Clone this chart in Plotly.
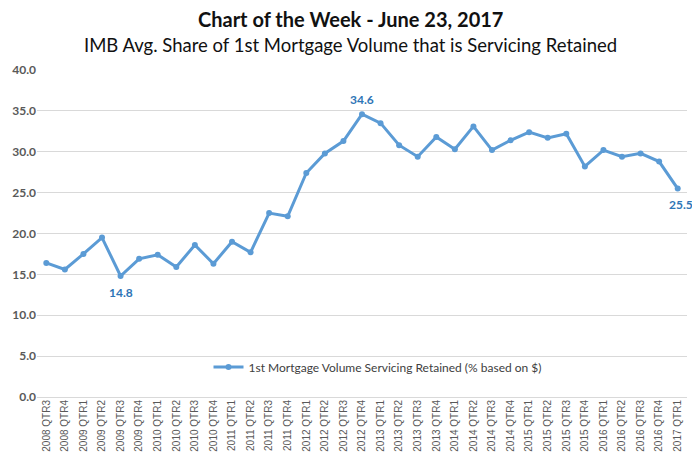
import plotly.graph_objects as go

quarters = [
    "2008 QTR3", "2008 QTR4",
    "2009 QTR1", "2009 QTR2", "2009 QTR3", "2009 QTR4",
    "2010 QTR1", "2010 QTR2", "2010 QTR3", "2010 QTR4",
    "2011 QTR1", "2011 QTR2", "2011 QTR3", "2011 QTR4",
    "2012 QTR1", "2012 QTR2", "2012 QTR3", "2012 QTR4",
    "2013 QTR1", "2013 QTR2", "2013 QTR3", "2013 QTR4",
    "2014 QTR1", "2014 QTR2", "2014 QTR3", "2014 QTR4",
    "2015 QTR1", "2015 QTR2", "2015 QTR3", "2015 QTR4",
    "2016 QTR1", "2016 QTR2", "2016 QTR3", "2016 QTR4",
    "2017 QTR1",
]
share_retained = [
    16.4, 15.6,
    17.5, 19.5, 14.8, 16.9,
    17.4, 15.9, 18.6, 16.3,
    19.0, 17.7, 22.5, 22.1,
    27.4, 29.8, 31.3, 34.6,
    33.5, 30.8, 29.4, 31.8,
    30.3, 33.1, 30.2, 31.4,
    32.4, 31.7, 32.2, 28.2,
    30.2, 29.4, 29.8, 28.8,
    25.5,
]
series_name = "1st Mortgage Volume Servicing Retained (% based on $)"
title_text = "Chart of the Week - June 23, 2017"
subtitle_text = "IMB Avg. Share of 1st Mortgage Volume that is Servicing Retained"
y_ticks = [0, 5, 10, 15, 20, 25, 30, 35, 40]
labelled = {4: -16, 17: 15, 34: -16}

line_color = "#5B9BD5"
label_color = "#2E75B6"
font_main = "Lato, Open Sans, sans-serif"

# page body adds an 8px offset; figure is sized so that it ends at the window edge
W, H = 692, 452
ml, mr, mt, mb = 29, 13, 62, 63
plot_h = H - mt - mb
plot_w = W - ml - mr

def py(y_fig):
    return (H - mb - y_fig) / plot_h

def px(x_fig):
    return (x_fig - ml) / plot_w

fig = go.Figure()
fig.add_trace(go.Scatter(
    x=quarters, y=share_retained, mode="lines+markers", name=series_name,
    line=dict(color=line_color, width=3),
    marker=dict(color=line_color, size=6),
    cliponaxis=False,
))

for idx, shift in labelled.items():
    fig.add_annotation(
        x=quarters[idx], y=share_retained[idx], xref="x", yref="y",
        text=f"{share_retained[idx]:.1f}", showarrow=False, yshift=shift,
        xshift=3 if idx == 34 else 0,
        font=dict(family=font_main, size=12, color=label_color, weight="bold"),
    )

fig.add_annotation(
    x=px(342), y=py(11), xref="paper", yref="paper", text=f"<b>{title_text}</b>",
    showarrow=False, xanchor="center", yanchor="middle",
    font=dict(family=font_main, size=20, color="#111111"),
)
fig.add_annotation(
    x=px(342), y=py(37), xref="paper", yref="paper", text=subtitle_text,
    showarrow=False, xanchor="center", yanchor="middle",
    font=dict(family=font_main, size=18.5, color="#111111"),
)

fig.update_layout(
    width=W, height=H,
    margin=dict(l=ml, r=mr, t=mt, b=mb, autoexpand=False),
    paper_bgcolor="white", plot_bgcolor="white",
    showlegend=True,
    legend=dict(
        x=px(370), y=py(359), xanchor="center", yanchor="middle", orientation="h",
        font=dict(family=font_main, size=12, color="#404040"),
        bgcolor="rgba(255,255,255,0)",
    ),
    xaxis=dict(
        type="category", range=[-0.5, len(quarters) - 0.5],
        tickangle=-90, showgrid=False, showline=False, zeroline=False,
        automargin=False,
        tickfont=dict(family="Liberation Sans, Arial, sans-serif", size=10, color="#595959"),
        ticks="",
    ),
    yaxis=dict(
        range=[0, 40], tickvals=y_ticks, tickformat=".1f",
        showgrid=True, gridcolor="#D9D9D9", gridwidth=1,
        zeroline=True, zerolinecolor="#D9D9D9", zerolinewidth=1,
        showline=False, ticks="", automargin=False,
        tickfont=dict(family=font_main, size=12, color="#595959", weight="bold"),
    ),
)

fig.write_html("out.html")
